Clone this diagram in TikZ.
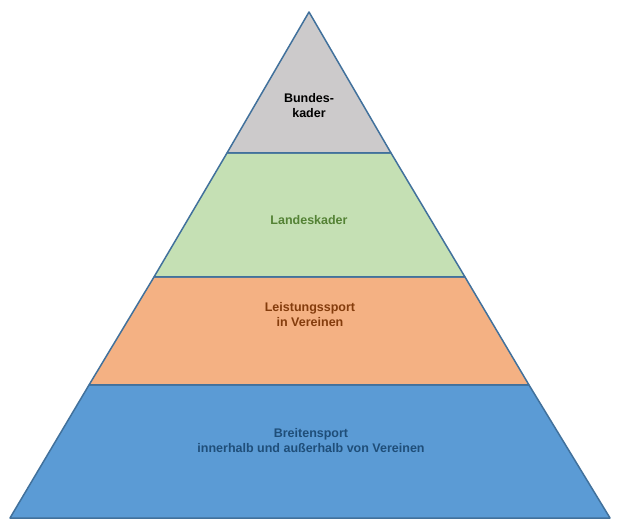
\documentclass[tikz,border=0pt]{standalone}
\usepackage{fontspec}
\setmainfont{Liberation Sans}
\definecolor{bord}{HTML}{41719C}
\definecolor{cgray}{HTML}{CCCACB}
\definecolor{cgreen}{HTML}{C5E0B4}
\definecolor{corange}{HTML}{F4B183}
\definecolor{cblue}{HTML}{5B9BD5}
\definecolor{tgreen}{HTML}{548235}
\definecolor{tbrown}{HTML}{843C0C}
\definecolor{tblue}{HTML}{1F4E79}
\begin{document}
\begin{tikzpicture}[x=1pt,y=-1pt,
  layer/.style={draw=bord,line width=1.5pt,line join=round},
  lbl/.style={font=\bfseries\fontsize{12.5}{15}\selectfont,align=center}]
\useasboundingbox (0,0) rectangle (621,526);
\fill[white] (0,0) rectangle (621,526);
\coordinate (A) at (309,12);
\path[layer,fill=cblue] (89,385) -- (529,385) -- (610,518) -- (10,518) -- cycle;
\path[layer,fill=corange] (154,277) -- (465,277) -- (529,385) -- (89,385) -- cycle;
\path[layer,fill=cgreen] (227,153) -- (391,153) -- (465,277) -- (154,277) -- cycle;
\path[layer,fill=cgray] (A) -- (391,153) -- (227,153) -- cycle;
\node[lbl] (b) at (309,106) {Bundes-\\kader};
\node[lbl,text=tgreen] (l) at (309,220) {Landeskader};
\node[lbl,text=tbrown] (v) at (310,315) {Leistungssport\\in Vereinen};
\node[lbl,text=tblue] (br) at (311,441) {Breitensport\\innerhalb und außerhalb von Vereinen};
\end{tikzpicture}
\end{document}
